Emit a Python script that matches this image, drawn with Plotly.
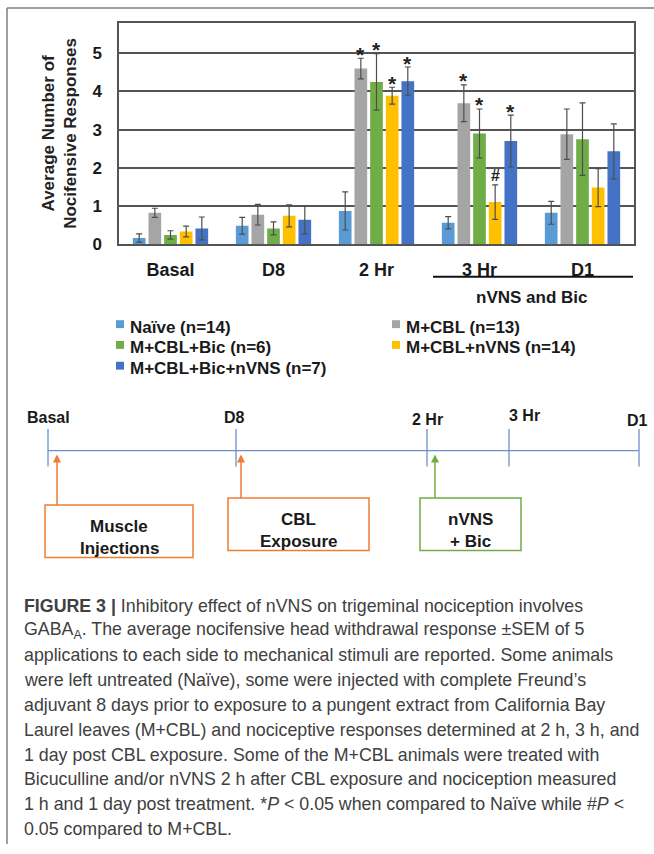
import plotly.graph_objects as go

# ---------------- data ----------------
categories = ["Basal", "D8", "2 Hr", "3 Hr", "D1"]
series_names = ["Naïve (n=14)", "M+CBL (n=13)", "M+CBL+Bic (n=6)",
                "M+CBL+nVNS (n=14)", "M+CBL+Bic+nVNS (n=7)"]

naive = [0.16, 0.48, 0.87, 0.56, 0.82]
naive_err = [0.11, 0.22, 0.50, 0.16, 0.30]
mcbl = [0.82, 0.77, 4.60, 3.69, 2.88]
mcbl_err = [0.12, 0.27, 0.27, 0.48, 0.66]
bic = [0.24, 0.41, 4.25, 2.90, 2.75]
bic_err = [0.11, 0.17, 0.74, 0.64, 0.95]
nvns = [0.33, 0.74, 3.89, 1.10, 1.48]
nvns_err = [0.14, 0.29, 0.22, 0.45, 0.50]
bicnvns = [0.41, 0.64, 4.27, 2.70, 2.43]
bicnvns_err = [0.30, 0.37, 0.37, 0.68, 0.72]

naive_sig = ["", "", "", "", ""]
mcbl_sig = ["", "", "*", "*", ""]
bic_sig = ["", "", "*", "*", ""]
nvns_sig = ["", "", "*", "#", ""]
bicnvns_sig = ["", "", "*", "*", ""]

y_title = "Average Number of<br>Nocifensive Responses"
group_label = "nVNS and Bic"
timeline_labels = ["Basal", "D8", "2 Hr", "3 Hr", "D1"]
event_boxes = [["Muscle", "Injections"], ["CBL", "Exposure"], ["nVNS", "+ Bic"]]

caption_lines = [
    "<b>FIGURE 3 |</b> Inhibitory effect of nVNS on trigeminal nociception involves",
    "GABA<sub>A</sub>. The average nocifensive head withdrawal response ±SEM of 5",
    "applications to each side to mechanical stimuli are reported. Some animals",
    "were left untreated (Naïve), some were injected with complete Freund’s",
    "adjuvant 8 days prior to exposure to a pungent extract from California Bay",
    "Laurel leaves (M+CBL) and nociceptive responses determined at 2 h, 3 h, and",
    "1 day post CBL exposure. Some of the M+CBL animals were treated with",
    "Bicuculline and/or nVNS 2 h after CBL exposure and nociception measured",
    "1 h and 1 day post treatment. *<i>P</i> &lt; 0.05 when compared to Naïve while #<i>P</i> &lt;",
    "0.05 compared to M+CBL.",
]

# ---------------- style ----------------
W, H = 654, 854
colors = ["#5B9BD5", "#A5A5A5", "#70AD47", "#FFC000", "#4472C4"]
FONT = "Liberation Sans, Arial, sans-serif"
AX = "#555555"
TXT = "#1a1a1a"


def px(x):
    return x / W


def py(y):
    return 1 - y / H


def label(x, y, text, size, color=TXT, xanchor="center"):
    return dict(x=px(x), y=py(y), xref="paper", yref="paper", text=text,
                xanchor=xanchor, yanchor="middle", showarrow=False,
                font=dict(family=FONT, size=size, color=color))


values = [naive, mcbl, bic, nvns, bicnvns]
errors = [naive_err, mcbl_err, bic_err, nvns_err, bicnvns_err]
sigs = [naive_sig, mcbl_sig, bic_sig, nvns_sig, bicnvns_sig]

fig = go.Figure()
for name, v, e, c in zip(series_names, values, errors, colors):
    fig.add_trace(go.Bar(
        x=categories, y=v, name=name, marker=dict(color=c, line=dict(width=0)),
        error_y=dict(type="data", array=e, visible=True, color="#4d4d4d",
                     thickness=1.2, width=3),
        showlegend=False,
    ))

x0_plot, x1_plot, y_top, y_bot = 119, 634, 23, 247
bargap = 0.24
cat_w = (x1_plot - x0_plot) / len(categories)
slot = cat_w * (1 - bargap) / len(series_names)

annotations = []
shapes = []

# significance marks above the error bars
for i, (v, e, s) in enumerate(zip(values, errors, sigs)):
    for j, mark in enumerate(s):
        if mark:
            annotations.append(dict(
                x=categories[j], y=v[j] + e[j], xref="x", yref="y",
                text="<b>%s</b>" % mark, showarrow=False, xanchor="center", yanchor="middle",
                xshift=(i - (len(series_names) - 1) / 2) * slot,
                yshift=4 if mark == "*" else 9,
                font=dict(family=FONT, size=21 if mark == "*" else 16, color="#222222")))

# legend (two columns, three rows)
leg_cols = [120, 396]
leg_rows = [328, 349, 370]
for i, (name, c) in enumerate(zip(series_names, colors)):
    cx = leg_cols[i % 2]
    cy = leg_rows[i // 2]
    shapes.append(dict(type="rect", xref="paper", yref="paper",
                       x0=px(cx - 4), x1=px(cx + 4), y0=py(cy + 4), y1=py(cy - 4),
                       line=dict(width=0), fillcolor=c))
    annotations.append(label(cx + 8, cy + 3, "<b>%s</b>" % name, 17, xanchor="left"))

# group label under 3 Hr / D1
annotations.append(label(531, 301, "<b>%s</b>" % group_label, 17))
shapes.append(dict(type="line", xref="paper", yref="paper",
                   x0=px(433), x1=px(633), y0=py(280), y1=py(280),
                   line=dict(color="#111111", width=2)))

# page border
shapes.append(dict(type="line", xref="paper", yref="paper", x0=px(7), x1=1,
                   y0=py(8), y1=py(8), line=dict(color="#7f7f7f", width=1.5)))
shapes.append(dict(type="line", xref="paper", yref="paper", x0=px(7), x1=px(7),
                   y0=py(8), y1=0, line=dict(color="#7f7f7f", width=1.5)))

# ---------------- timeline ----------------
tl_color = "#6F8FCB"
tl_y = 456
tick_x = [48, 236, 427, 509, 639]
label_pos = [(48, 422), (235, 422), (427, 424), (524, 420), (637, 425)]
shapes.append(dict(type="line", xref="paper", yref="paper", x0=px(48), x1=px(639),
                   y0=py(tl_y), y1=py(tl_y), line=dict(color=tl_color, width=1.3)))
for tx in tick_x:
    shapes.append(dict(type="line", xref="paper", yref="paper", x0=px(tx), x1=px(tx),
                       y0=py(434), y1=py(472), line=dict(color=tl_color, width=1.3)))
for lab, (lx, ly) in zip(timeline_labels, label_pos):
    annotations.append(label(lx, ly, "<b>%s</b>" % lab, 16))

orange, green = "#ED7D31", "#70AD47"
boxes = [((45, 193, 511, 564), orange, 57),
         ((228, 369, 504, 557), orange, 241),
         ((420, 521, 504, 557), green, 435)]
tip_y = tl_y + 4
for (bx0, bx1, by0, by1), col, ax_x in boxes:
    shapes.append(dict(type="rect", xref="paper", yref="paper",
                       x0=px(bx0), x1=px(bx1), y0=py(by1), y1=py(by0),
                       line=dict(color=col, width=1.5), fillcolor="white"))
    shapes.append(dict(type="line", xref="paper", yref="paper",
                       x0=px(ax_x), x1=px(ax_x), y0=py(by0), y1=py(tip_y + 6),
                       line=dict(color=col, width=1.5)))
    shapes.append(dict(type="path", xref="paper", yref="paper",
                       path="M %f,%f L %f,%f L %f,%f Z" % (
                           px(ax_x), py(tip_y), px(ax_x - 4), py(tip_y + 8),
                           px(ax_x + 4), py(tip_y + 8)),
                       line=dict(width=0), fillcolor=col))
for lines, ((bx0, bx1, by0, by1), col, ax_x) in zip(event_boxes, boxes):
    cx = (bx0 + bx1) / 2
    cy = (by0 + by1) / 2
    for k, t in enumerate(lines):
        annotations.append(label(cx, cy - 5 + 22 * k, "<b>%s</b>" % t, 17))

# ---------------- caption ----------------
for k, line in enumerate(caption_lines):
    annotations.append(label(22, 613 + 25.1 * k, line, 17.8, color="#404040", xanchor="left"))

fig.update_layout(
    width=W, height=H, margin=dict(l=0, r=0, t=0, b=0),
    paper_bgcolor="white", plot_bgcolor="white",
    barmode="group", bargap=bargap, bargroupgap=0.19,
    font=dict(family=FONT, color=TXT),
    xaxis=dict(domain=[px(x0_plot), px(x1_plot)], showline=True, mirror=True,
               linecolor=AX, linewidth=1.5, ticks="", showgrid=False,
               tickfont=dict(family=FONT, size=18, weight="bold", color=TXT),
               ticklabelstandoff=9),
    yaxis=dict(domain=[py(y_bot), py(y_top)], range=[0, 5.8], dtick=1, tick0=0,
               showline=True, mirror=True, linecolor=AX, linewidth=1.5,
               showgrid=True, gridcolor=AX, gridwidth=1.5, zeroline=False, ticks="",
               tickfont=dict(family=FONT, size=17, weight="bold", color=TXT),
               ticklabelstandoff=12,
               title=dict(text="<b>%s</b>" % y_title, standoff=11,
                          font=dict(family=FONT, size=17, color="#222222"))),
    annotations=annotations, shapes=shapes, showlegend=False,
)

fig.write_html("out.html", config={"displayModeBar": False},
               post_script="document.body.style.margin='0';")
